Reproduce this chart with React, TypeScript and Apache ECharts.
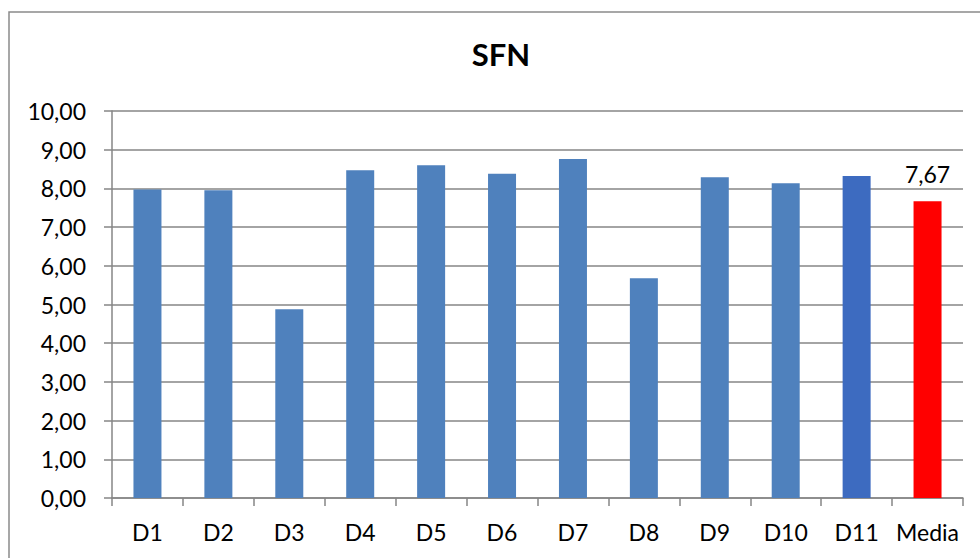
import React, { useEffect, useRef } from "react";
import * as echarts from "echarts";

const categories = ["D1", "D2", "D3", "D4", "D5", "D6", "D7", "D8", "D9", "D10", "D11", "Media"];
const values = [7.97, 7.95, 4.88, 8.47, 8.6, 8.38, 8.76, 5.68, 8.29, 8.13, 8.32, 7.67];
const barColors = [
  "#4F81BD", "#4F81BD", "#4F81BD", "#4F81BD", "#4F81BD", "#4F81BD",
  "#4F81BD", "#4F81BD", "#4F81BD", "#4F81BD", "#3D6BC0", "#FF0000",
];
const labelledCategory = "Media";
const title = "SFN";

const FONT = "Lato, 'Liberation Sans', sans-serif";

export default function App() {
  const ref = useRef<HTMLDivElement>(null);
  useEffect(() => {
    if (!ref.current) return;
    const chart = echarts.init(ref.current, null, { renderer: "svg" });
    const fmt = (v: number) => v.toFixed(2).replace(".", ",");
    chart.setOption({
      animation: false,
      backgroundColor: "#ffffff",
      graphic: [
        {
          type: "rect",
          shape: { x: 9, y: 12, width: 1000, height: 600 },
          style: { fill: "none", stroke: "#8a8a8a", lineWidth: 1.5 },
          silent: true,
          z: -1,
        },
      ],
      title: {
        text: title,
        left: 496,
        top: 33,
        textAlign: "center",
        textStyle: { fontFamily: FONT, fontSize: 31, fontWeight: "bold", color: "#000" },
      },
      grid: { left: 112, right: 17, top: 111, bottom: 60 },
      xAxis: {
        type: "category",
        data: categories,
        axisLine: { show: true, lineStyle: { color: "#868686", width: 1.5 } },
        axisTick: { show: true, length: 8, lineStyle: { color: "#868686", width: 1.5 } },
        axisLabel: { fontFamily: FONT, fontSize: 23, color: "#000", margin: 22, interval: 0 },
      },
      yAxis: {
        type: "value",
        min: 0,
        max: 10,
        interval: 1,
        axisLine: { show: true, lineStyle: { color: "#868686", width: 1.5 } },
        axisTick: { show: true, length: 8, lineStyle: { color: "#868686", width: 1.5 } },
        splitLine: { show: true, lineStyle: { color: "#868686", width: 1.5 } },
        axisLabel: { fontFamily: FONT, fontSize: 23, color: "#000", margin: 26, formatter: fmt },
      },
      series: [
        {
          type: "bar",
          barWidth: 28,
          data: values.map((v, i) => ({
            value: v,
            itemStyle: { color: barColors[i] },
            label: {
              show: categories[i] === labelledCategory,
              position: "top",
              distance: 16,
              fontFamily: FONT,
              fontSize: 23,
              color: "#000",
              formatter: (p: any) => fmt(p.value),
            },
          })),
        },
      ],
    });
    return () => chart.dispose();
  }, []);
  return (
    <div
      ref={ref}
      style={{ position: "fixed", left: 0, top: 0, width: 980, height: 558 }}
    />
  );
}
